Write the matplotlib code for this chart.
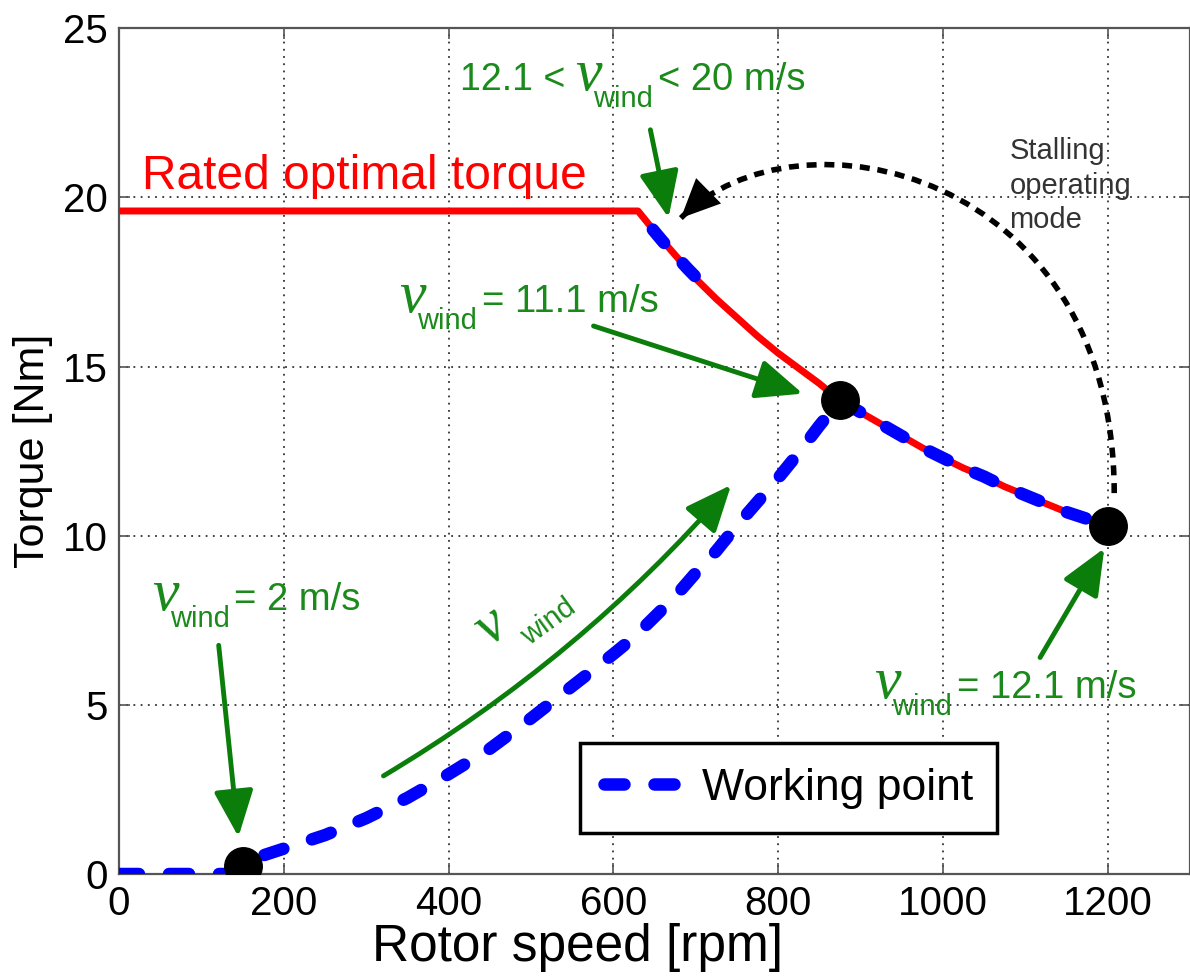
import matplotlib
matplotlib.use('Agg')
import matplotlib.pyplot as plt
from matplotlib.transforms import offset_copy
from matplotlib.path import Path
from matplotlib.patches import PathPatch

plt.rcParams['font.family'] = ['Liberation Sans', 'DejaVu Sans']

# rated optimal torque (red)
rpm_rated = [0, 630, 650, 675, 700, 725, 750, 775, 800, 825, 850, 875, 900, 925, 950, 975,
             1000, 1025, 1050, 1075, 1100, 1125, 1150, 1175, 1200]
torque_rated = [19.6, 19.6, 19.0, 18.3, 17.6, 17.0, 16.45, 15.9, 15.4, 14.95, 14.5, 14.0, 13.65,
                13.3, 12.95, 12.6, 12.3, 12.0, 11.75, 11.45, 11.2, 10.95, 10.7, 10.5, 10.3]

# working point (blue dashed)
rpm_wp = [0, 65, 130, 150, 175, 200, 250, 300, 350, 400, 450, 500, 550, 600, 625, 650, 675,
          700, 725, 750, 775, 800, 825, 850, 875, 900, 925, 950, 975, 1000, 1025, 1050, 1075,
          1100, 1125, 1150, 1175, 1200]
torque_wp = [0, 0, 0, 0.3, 0.55, 0.75, 1.15, 1.65, 2.25, 2.95, 3.7, 4.6, 5.55, 6.5, 7.0, 7.6, 8.2,
             8.9, 9.55, 10.3, 11.0, 11.7, 12.45, 13.25, 14.0, 13.65, 13.3, 12.95, 12.6, 12.3,
             12.0, 11.75, 11.45, 11.2, 10.95, 10.7, 10.5, 10.3]

# working point for 12.1 < v < 20 m/s
rpm_high = [648, 660, 675, 690, 708]
torque_high = [19.05, 18.7, 18.3, 17.9, 17.45]

# marked operating points
rpm_pts = [150, 875, 1200]
torque_pts = [0.25, 14.0, 10.3]

GREEN = '#1a8a1a'
ARROW_GREEN = '#0a7d0a'

fig = plt.figure(figsize=(11.9, 9.76), dpi=100)
ax = fig.add_axes([0.1, 0.1045, 0.9, 0.8665])

ax.plot(rpm_rated, torque_rated, color='red', lw=5, zorder=3)
wp, = ax.plot(rpm_wp, torque_wp, color='blue', lw=9, linestyle=(0, (1.6, 2.4)),
              dash_capstyle='round', zorder=4, label='Working point')
ax.plot(rpm_high, torque_high, color='blue', lw=9, linestyle=(0, (1.4, 2.2)),
        dash_capstyle='round', zorder=4)
ax.plot(rpm_pts, torque_pts, 'o', color='black', markersize=27, zorder=6)

ax.set_xlim(0, 1300)
ax.set_ylim(0, 25)
ax.set_xticks(range(0, 1201, 200))
ax.set_yticks(range(0, 26, 5))
ax.grid(True, color='#333333', linestyle=(0, (1, 3)), lw=1.3)
ax.tick_params(direction='in', length=8, width=1.2, colors='#555555', labelcolor='black',
               labelsize=29, top=True, right=True, pad=8)
for s in ax.spines.values():
    s.set_color('#555555')
    s.set_linewidth(1.6)

ax.set_xlabel('Rotor speed [rpm]', fontsize=37)
ax.set_ylabel('Torque [Nm]', fontsize=31)
ax.xaxis.set_label_coords(0.428, -0.058)
ax.yaxis.set_label_coords(-0.062, 0.5)

leg = ax.legend(handles=[wp], loc='lower left', bbox_to_anchor=(0.43, 0.0485),
                borderaxespad=0, fontsize=32, fancybox=False, edgecolor='black',
                framealpha=1, handlelength=1.9, handletextpad=0.3, borderpad=0.55)
leg.get_frame().set_linewidth(2.5)

ax.text(28, 20.25, 'Rated optimal torque', color='red', fontsize=34.5, va='baseline')

ax.text(1081, 19.09, 'Stalling\noperating\nmode', color='#333333', fontsize=21,
        va='baseline', linespacing=1.3)

fig.canvas.draw()
renderer = fig.canvas.get_renderer()


def wind_label(x, y, before, after):
    # pieces: text, style, x gap before (px), baseline shift (px)
    parts = [(before, dict(fontsize=27), 0, 0),
             ('\u03bd', dict(fontsize=43, family='Liberation Serif', style='italic'), 10, 0),
             ('wind', dict(fontsize=21), -9, -17),
             (after, dict(fontsize=27.5), 5, 0)]
    dx = 0
    for s, kw, gap, dy in parts:
        if not s:
            continue
        dx += gap
        t = ax.text(x, y, s, color=GREEN, ha='left', va='baseline', zorder=7,
                    transform=offset_copy(ax.transData, fig=fig, x=dx, y=dy, units='dots'), **kw)
        dx += t.get_window_extent(renderer).width


wind_label(414, 23.17, '12.1 <', '< 20 m/s')
wind_label(328, 16.6, '', '= 11.1 m/s')
wind_label(28, 7.8, '', '= 2 m/s')
wind_label(905, 5.2, '', '= 12.1 m/s')

arrow_kw = dict(arrowstyle='-|>,head_length=0.75,head_width=0.32', color=ARROW_GREEN,
                lw=3.5, mutation_scale=38, shrinkA=0, shrinkB=0)
ax.annotate('', xy=(667, 19.4), xytext=(645, 22.0), arrowprops=arrow_kw, zorder=7)
ax.annotate('', xy=(830, 14.2), xytext=(576, 16.2), arrowprops=arrow_kw, zorder=7)
ax.annotate('', xy=(145, 1.1), xytext=(121, 6.76), arrowprops=arrow_kw, zorder=7)
ax.annotate('', xy=(1196, 9.63), xytext=(1118, 6.4), arrowprops=arrow_kw, zorder=7)
ax.annotate('', xy=(743, 11.5), xytext=(321, 2.9),
            arrowprops=dict(arrow_kw, connectionstyle='arc3,rad=0.08'), zorder=7)

# rotated v_wind along the curved arrow
ax.text(462, 6.95, '\u03bd', color=GREEN, fontsize=43, family='Liberation Serif', style='italic',
        rotation=36, rotation_mode='anchor', ha='center', va='baseline')
ax.text(498, 6.75, 'wind', color=GREEN, fontsize=21, rotation=36,
        rotation_mode='anchor', ha='left', va='baseline')

# stalling operating mode: dotted curved arrow
stall = Path([(1208, 11.26), (1208, 20.8), (824, 22.87), (682, 19.39)],
             [Path.MOVETO, Path.CURVE4, Path.CURVE4, Path.CURVE4])
ax.add_patch(PathPatch(stall, fill=False, edgecolor='black', lw=4,
                       linestyle=(0, (1.8, 1.4)), zorder=5))
ax.annotate('', xy=(682, 19.39), xytext=(745, 20.9),
            arrowprops=dict(arrowstyle='-|>,head_length=0.7,head_width=0.32', color='black',
                            lw=0, mutation_scale=40, shrinkA=0, shrinkB=0), zorder=5)

fig.savefig('out.png', dpi=100)
plt.close(fig)
